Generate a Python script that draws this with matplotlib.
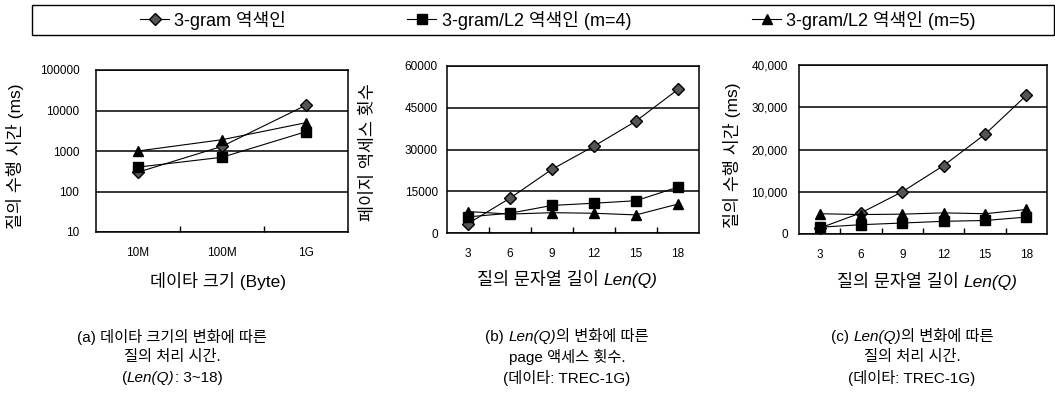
import matplotlib
matplotlib.use('Agg')
import matplotlib.pyplot as plt
from matplotlib.lines import Line2D
from matplotlib.patches import Rectangle
from matplotlib.ticker import FixedLocator, FuncFormatter, NullLocator

FAM = ['Liberation Sans', 'Noto Sans CJK KR', 'DejaVu Sans']
plt.rcParams['font.family'] = FAM

W, H = 1055, 394

series_names = ['3-gram 역색인', '3-gram/L2 역색인 (m=4)', '3-gram/L2 역색인 (m=5)']

# (a) 데이타 크기별 질의 수행 시간 (ms)
size_labels = ['10M', '100M', '1G']
a_3gram = [300, 1300, 13500]
a_l2_m4 = [400, 700, 3000]
a_l2_m5 = [1000, 1900, 5000]

# (b), (c) Len(Q)
len_q = [3, 6, 9, 12, 15, 18]
b_3gram = [3400, 12500, 22900, 31200, 40200, 51600]
b_l2_m4 = [5800, 7100, 9900, 10700, 11600, 16500]
b_l2_m5 = [7700, 6800, 7300, 7100, 6500, 10400]

c_3gram = [1400, 5000, 10000, 16200, 23600, 32800]
c_l2_m4 = [1600, 2200, 2600, 3000, 3200, 4000]
c_l2_m5 = [4800, 4600, 4700, 5000, 4800, 5800]

styles = [
    dict(marker='D', markersize=6.5, markerfacecolor='#555555', markeredgecolor='black'),
    dict(marker='s', markersize=6.5, markerfacecolor='black', markeredgecolor='black'),
    dict(marker='^', markersize=7.5, markerfacecolor='black', markeredgecolor='black'),
]


def px_axes(fig, left, top, right, bottom):
    return fig.add_axes([left / W, 1 - bottom / H, (right - left) / W, (bottom - top) / H])


def style_axes(ax, labels, ypad):
    n = len(labels)
    ax.set_xlim(-0.5, n - 0.5)
    ax.set_xticks(range(n))
    ax.set_xticklabels(labels, fontsize=8.5)
    ax.xaxis.set_minor_locator(FixedLocator([i + 0.5 for i in range(n - 1)]))
    ax.tick_params(axis='x', which='major', length=0, pad=11)
    ax.tick_params(axis='x', which='minor', direction='in', length=4, width=1)
    ax.tick_params(axis='y', which='both', length=0, pad=ypad, labelsize=8.5)
    ax.yaxis.grid(True, color='black', linewidth=1.1)
    ax.set_axisbelow(True)
    for sp in ax.spines.values():
        sp.set_linewidth(1.1)


def draw_series(ax, data):
    for vals, st in zip(data, styles):
        ax.plot(range(len(vals)), vals, color='black', linewidth=0.8, **st)


def rich_text(fig, xc, y, pieces, size):
    r = fig.canvas.get_renderer()
    texts = []
    for s, it in pieces:
        t = fig.text(0, 1 - y / H, s, fontsize=size, va='center', ha='left',
                     fontstyle='italic' if it else 'normal', family=FAM)
        texts.append(t)
    widths = [t.get_window_extent(r).width for t in texts]
    x = xc - sum(widths) / 2
    for t, w in zip(texts, widths):
        t.set_x(x / W)
        x += w


fig = plt.figure(figsize=(W / 100, H / 100), dpi=100)

# legend box
fig.add_artist(Rectangle((32 / W, 1 - 35 / H), (W - 33) / W, 30 / H,
                         transform=fig.transFigure, fill=False, edgecolor='black', linewidth=1))
handles = [Line2D([], [], color='black', linewidth=0.8, **st) for st in styles]
fig.legend(handles, series_names, loc='center', bbox_to_anchor=(558 / W, 1 - 20 / H),
           ncol=3, frameon=False, handlelength=1.6, handletextpad=0.3,
           columnspacing=6.7, prop={'family': FAM, 'size': 13})

# (a)
ax1 = px_axes(fig, 96, 70, 348, 232)
draw_series(ax1, [a_3gram, a_l2_m4, a_l2_m5])
ax1.set_yscale('log')
ax1.set_ylim(10, 100000)
ax1.yaxis.set_major_locator(FixedLocator([10, 100, 1000, 10000, 100000]))
ax1.yaxis.set_minor_locator(NullLocator())
ax1.yaxis.set_major_formatter(FuncFormatter(lambda v, p: '%d' % v))
style_axes(ax1, size_labels, 12)

# (b)
ax2 = px_axes(fig, 447, 66, 699, 233)
draw_series(ax2, [b_3gram, b_l2_m4, b_l2_m5])
ax2.set_ylim(0, 60000)
ax2.set_yticks([0, 15000, 30000, 45000, 60000])
style_axes(ax2, [str(v) for v in len_q], 6.5)

# (c)
ax3 = px_axes(fig, 799, 65, 1047, 234)
draw_series(ax3, [c_3gram, c_l2_m4, c_l2_m5])
ax3.set_ylim(0, 40000)
ax3.set_yticks([0, 10000, 20000, 30000, 40000])
ax3.yaxis.set_major_formatter(FuncFormatter(lambda v, p: '{:,}'.format(int(v))))
style_axes(ax3, [str(v) for v in len_q], 8)

# y labels
fig.text(15 / W, 1 - 156 / H, '질의 수행 시간 (ms)', rotation=90, fontsize=12.5, ha='center', va='center')
fig.text(368 / W, 1 - 152 / H, '페이지 액세스 횟수', rotation=90, fontsize=12.5, ha='center', va='center')
fig.text(732 / W, 1 - 155 / H, '질의 수행 시간 (ms)', rotation=90, fontsize=12.5, ha='center', va='center')

# x labels
rich_text(fig, 218, 281, [('데이타 크기 (Byte)', False)], 12.5)
rich_text(fig, 567, 280, [('질의 문자열 길이 ', False), ('Len(Q)', True)], 12.5)
rich_text(fig, 927, 282, [('질의 문자열 길이 ', False), ('Len(Q)', True)], 12.5)

# captions
rich_text(fig, 172, 337, [('(a) 데이타 크기의 변화에 따른', False)], 11)
rich_text(fig, 172, 357, [('질의 처리 시간.', False)], 11)
rich_text(fig, 172, 378, [('(', False), ('Len(Q)', True), (': 3~18)', False)], 11)

rich_text(fig, 567, 337, [('(b) ', False), ('Len(Q)', True), ('의 변화에 따른', False)], 11)
rich_text(fig, 567, 357, [('page 액세스 횟수.', False)], 11)
rich_text(fig, 567, 378, [('(데이타: TREC-1G)', False)], 11)

rich_text(fig, 912, 337, [('(c) ', False), ('Len(Q)', True), ('의 변화에 따른', False)], 11)
rich_text(fig, 912, 357, [('질의 처리 시간.', False)], 11)
rich_text(fig, 912, 378, [('(데이타: TREC-1G)', False)], 11)

fig.savefig('out.png', dpi=100)
